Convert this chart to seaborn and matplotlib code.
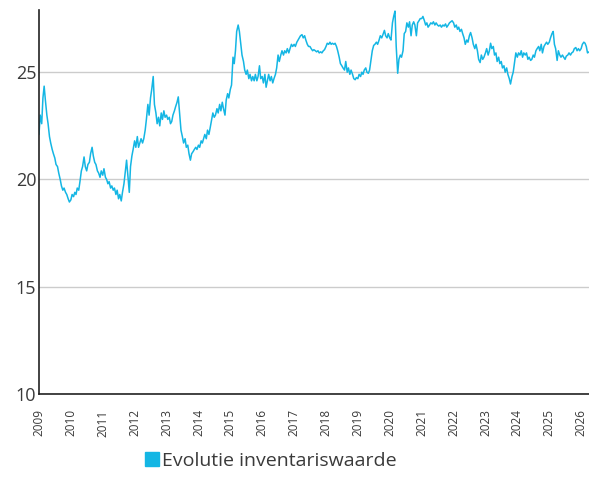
import pandas as pd
import matplotlib
matplotlib.use("Agg")
import matplotlib.pyplot as plt
from matplotlib.lines import Line2D
import seaborn as sns

# Net asset value per share, sampled on the 1st and 15th of each month
series_label = "Evolutie inventariswaarde"
start_date = "2009-01-01"
end_date = "2026-04-01"
year_ticks = list(range(2009, 2027))
y_ticks = [10, 15, 20, 25]

nav_2009 = [22.1, 23.0, 22.6, 23.8, 24.35, 23.7, 23.0, 22.6, 22.0, 21.7, 21.4, 21.2,
            21.0, 20.7, 20.6, 20.3, 20.0, 19.7, 19.5, 19.6, 19.4, 19.3, 19.1, 18.95]
nav_2010 = [19.05, 19.3, 19.2, 19.4, 19.3, 19.6, 19.5, 19.9, 20.4, 20.6, 21.05, 20.6,
            20.4, 20.7, 20.8, 21.2, 21.5, 21.1, 20.8, 20.7, 20.4, 20.3, 20.1, 20.4]
nav_2011 = [20.2, 20.5, 20.1, 20.0, 19.8, 19.9, 19.6, 19.7, 19.5, 19.6, 19.3, 19.5,
            19.1, 19.3, 19.0, 19.4, 19.8, 20.3, 20.9, 20.2, 19.4, 20.6, 21.1, 21.4]
nav_2012 = [21.8, 21.5, 22.0, 21.5, 21.7, 21.9, 21.7, 21.9, 22.3, 22.8, 23.5, 23.0,
            23.8, 24.2, 24.8, 23.5, 23.1, 22.6, 22.9, 22.5, 23.1, 22.8, 23.2, 22.9]
nav_2013 = [23.0, 22.8, 22.9, 22.6, 22.7, 23.0, 23.2, 23.4, 23.6, 23.85, 23.0, 22.3,
            22.0, 21.7, 21.9, 21.5, 21.6, 21.2, 20.9, 21.2, 21.3, 21.4, 21.5, 21.4]
nav_2014 = [21.6, 21.5, 21.8, 21.7, 21.9, 22.1, 21.9, 22.3, 22.1, 22.4, 22.8, 23.1,
            22.9, 23.0, 23.3, 23.1, 23.5, 23.2, 23.6, 23.3, 23.0, 23.7, 24.0, 23.8]
nav_2015 = [24.2, 24.4, 25.7, 25.4, 26.0, 26.9, 27.2, 26.9, 26.3, 25.8, 25.5, 25.1,
            24.9, 25.1, 24.7, 24.9, 24.6, 24.8, 24.6, 24.9, 24.6, 24.8, 25.3, 24.7]
nav_2016 = [24.8, 24.5, 24.9, 24.3, 24.6, 24.9, 24.6, 24.8, 24.5, 24.7, 24.9, 25.2,
            25.8, 25.5, 25.8, 26.0, 25.8, 26.0, 25.9, 26.1, 25.9, 26.1, 26.3, 26.2]
nav_2017 = [26.3, 26.2, 26.4, 26.5, 26.6, 26.7, 26.75, 26.6, 26.7, 26.5, 26.3, 26.2,
            26.2, 26.1, 26.0, 26.05, 26.0, 25.95, 26.0, 25.9, 25.95, 25.9, 26.0, 26.05]
nav_2018 = [26.2, 26.35, 26.3, 26.4, 26.3, 26.35, 26.3, 26.35, 26.2, 26.0, 25.7, 25.4,
            25.3, 25.2, 25.1, 25.5, 25.0, 25.2, 24.9, 25.1, 24.9, 24.7, 24.65, 24.75]
nav_2019 = [24.7, 24.9, 24.8, 25.0, 24.9, 25.1, 25.2, 25.0, 24.95, 25.1, 25.6, 26.0,
            26.25, 26.3, 26.4, 26.3, 26.5, 26.7, 26.6, 26.75, 26.95, 26.7, 26.6, 26.8]
nav_2020 = [26.6, 26.5, 27.3, 27.6, 27.85, 26.2, 24.95, 25.6, 25.8, 25.7, 26.0, 26.8,
            26.9, 27.3, 27.1, 27.35, 26.7, 27.2, 27.35, 27.2, 26.7, 27.3, 27.4, 27.5]
nav_2021 = [27.5, 27.6, 27.4, 27.2, 27.3, 27.1, 27.2, 27.3, 27.25, 27.35, 27.2, 27.3,
            27.2, 27.15, 27.2, 27.1, 27.2, 27.15, 27.25, 27.1, 27.2, 27.3, 27.35, 27.4]
nav_2022 = [27.3, 27.1, 27.2, 27.0, 27.1, 26.9, 27.0, 26.8, 26.6, 26.3, 26.5, 26.4,
            26.7, 26.85, 26.6, 26.3, 26.1, 26.3, 26.0, 25.6, 25.45, 25.8, 25.6, 25.7]
nav_2023 = [25.9, 26.1, 25.8, 26.0, 26.35, 26.1, 26.2, 25.8, 25.9, 25.5, 25.7, 25.4,
            25.5, 25.2, 25.3, 25.0, 25.2, 24.9, 24.7, 24.45, 24.8, 25.0, 25.5, 25.9]
nav_2024 = [25.7, 25.9, 25.8, 26.0, 25.7, 25.9, 25.8, 25.9, 25.6, 25.7, 25.55, 25.6,
            25.8, 25.7, 26.0, 26.1, 26.2, 26.0, 26.3, 25.9, 26.2, 26.3, 26.4, 26.3]
nav_2025 = [26.4, 26.6, 26.8, 26.9, 26.3, 26.1, 25.55, 26.0, 25.8, 25.7, 25.8, 25.7,
            25.6, 25.75, 25.8, 25.9, 25.8, 25.9, 25.95, 26.1, 26.15, 26.0, 26.1, 26.0]
nav_2026 = [26.1, 26.3, 26.4, 26.35, 26.2, 25.9, 25.95]

line_color = "#14b6e4"
text_color = "#3a3a3a"

values = (nav_2009 + nav_2010 + nav_2011 + nav_2012 + nav_2013 + nav_2014
          + nav_2015 + nav_2016 + nav_2017 + nav_2018 + nav_2019 + nav_2020
          + nav_2021 + nav_2022 + nav_2023 + nav_2024 + nav_2025 + nav_2026)
dates = pd.date_range(start_date, end_date, freq="SMS")
df = pd.DataFrame({"datum": dates, "waarde": values})

sns.set_style("white")
plt.rcParams["font.family"] = ["Open Sans", "DejaVu Sans"]

W, H = 589, 483
fig = plt.figure(figsize=(W / 100, H / 100), dpi=100)
ax = fig.add_axes([39 / W, 89 / H, 550 / W, 384 / H])

sns.lineplot(data=df, x="datum", y="waarde", ax=ax, color=line_color,
             linewidth=1.1, legend=False)

ax.set_xlim(df["datum"].iloc[0], df["datum"].iloc[-1])
ax.set_ylim(10, max(values) + 0.05)
ax.set_yticks(y_ticks)
ax.set_yticklabels([str(v) for v in y_ticks])
ax.set_xticks([pd.Timestamp(f"{y}-01-01") for y in year_ticks])
ax.set_xticklabels([str(y) for y in year_ticks], rotation=90)
ax.set_xlabel("")
ax.set_ylabel("")

ax.grid(axis="y", color="#cccccc", linewidth=1.0)
ax.grid(axis="x", visible=False)
ax.set_axisbelow(True)
for side in ("top", "right"):
    ax.spines[side].set_visible(False)
for side in ("left", "bottom"):
    ax.spines[side].set_color("#222222")
    ax.spines[side].set_linewidth(1.2)

ax.tick_params(axis="y", length=0, pad=2, labelsize=13, labelcolor=text_color)
ax.tick_params(axis="x", length=0, pad=11, labelsize=8.5, labelcolor=text_color)

handle = Line2D([], [], marker="s", linestyle="none", markersize=9.5,
                color=line_color)
leg = fig.legend(handles=[handle], labels=[series_label], loc="center left",
                 bbox_to_anchor=(129 / W, 1 - 461 / H), frameon=False,
                 handletextpad=0.0, handlelength=1.0, fontsize=14,
                 borderpad=0.2)
for t in leg.get_texts():
    t.set_color(text_color)

fig.savefig("out.png", dpi=100)
